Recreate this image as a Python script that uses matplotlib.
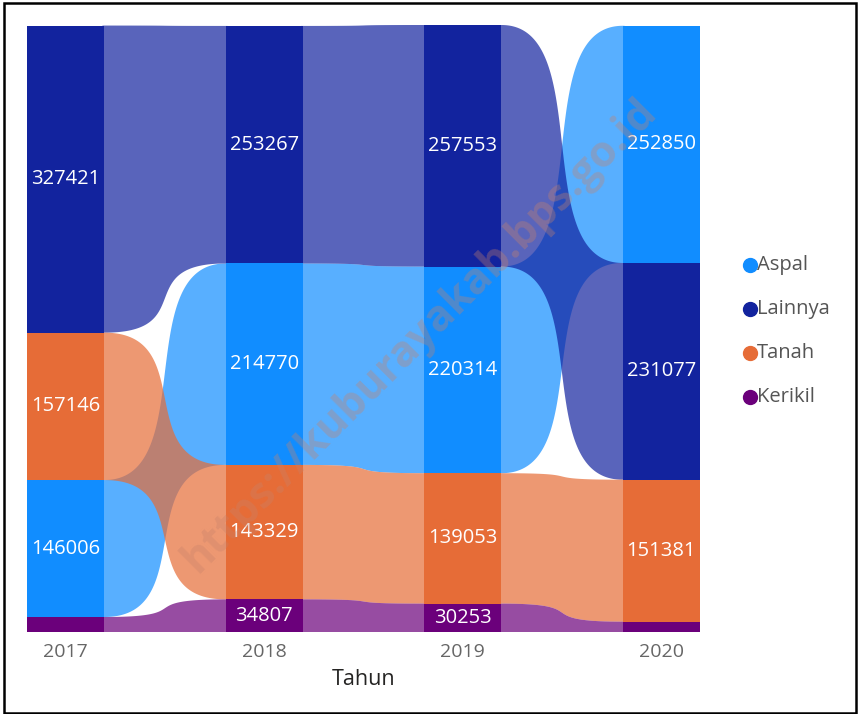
import numpy as np
import matplotlib.pyplot as plt
from matplotlib.lines import Line2D
from matplotlib.patches import Rectangle

plt.rcParams['font.family'] = ['Open Sans', 'DejaVu Sans']

# data (kerikil 2017 / 2020 tidak berlabel, diperkirakan dari tinggi pita)
tahun = ["2017", "2018", "2019", "2020"]
kategori = ["Aspal", "Lainnya", "Tanah", "Kerikil"]
aspal = [146006, 214770, 220314, 252850]
lainnya = [327421, 253267, 257553, 231077]
tanah = [157146, 143329, 139053, 151381]
kerikil = [16000, 34807, 30253, 11000]
warna = ["#118DFF", "#12239E", "#E66C37", "#6B007B"]

nilai = np.array([aspal, lainnya, tanah, kerikil], dtype=float)  # (kategori, tahun)
n_kat, n_th = nilai.shape
w = 0.39  # lebar kolom

# posisi tumpukan: terbesar di atas
bawah = np.zeros_like(nilai)
atas = np.zeros_like(nilai)
for j in range(n_th):
    urut = np.argsort(nilai[:, j])  # kecil -> besar, dari bawah
    y = 0
    for k in urut:
        bawah[k, j] = y
        y += nilai[k, j]
        atas[k, j] = y

fig = plt.figure(figsize=(8.6, 7.14), dpi=100)
ax = fig.add_axes([27/860, 1-632/714, (700-27)/860, (632-25)/714])

# pita antar kolom: kurva bezier
c = 0.78
t = np.linspace(0, 1, 400)
bx = 3*(1-t)**2*t*c + 3*(1-t)*t**2*(1-c) + t**3
by = 3*(1-t)*t**2 + t**3
eps = 0.01  # sedikit masuk ke kolom supaya tidak ada celah putih
for j in range(n_th-1):
    x0, x1 = j + w/2, j + 1 - w/2
    xs = np.concatenate([[x0 - eps], x0 + (x1 - x0)*bx, [x1 + eps]])
    for k in range(n_kat):
        top = atas[k, j] + (atas[k, j+1] - atas[k, j]) * by
        bot = bawah[k, j] + (bawah[k, j+1] - bawah[k, j]) * by
        top = np.concatenate([[top[0]], top, [top[-1]]])
        bot = np.concatenate([[bot[0]], bot, [bot[-1]]])
        ax.fill(np.concatenate([xs, xs[::-1]]), np.concatenate([top, bot[::-1]]),
                color=warna[k], alpha=0.7, linewidth=0)

# kolom
for k in range(n_kat):
    ax.bar(np.arange(n_th), nilai[k], bottom=bawah[k], width=w,
           color=warna[k], linewidth=0, zorder=3)
    for j in range(n_th):
        if nilai[k, j] > 25000:
            ax.text(j, (bawah[k, j] + atas[k, j]) / 2, f"{int(nilai[k, j])}",
                    ha="center", va="center", color="white", fontsize=14.5, zorder=4)

ax.set_xlim(-w/2, n_th - 1 + w/2)
ax.set_ylim(0, atas.max())
ax.set_xticks(range(n_th))
ax.set_xticklabels(tahun, color="#666666", fontsize=14)
ax.tick_params(axis="x", length=0, pad=8)
ax.set_yticks([])
for sp in ax.spines.values():
    sp.set_visible(False)
ax.set_xlabel("Tahun", color="#252423", fontsize=15.5, labelpad=6)

# legenda
for i, (nm, col) in enumerate(zip(kategori, warna)):
    yy = 1 - (265 + 44*i)/714
    fig.add_artist(Line2D([750/860], [yy], marker="o", markersize=10, color=col,
                          linestyle="none", transform=fig.transFigure))
    fig.text(757/860, yy, nm, color="#555555", fontsize=14.5, va="center", ha="left")

# watermark
fig.text(420/860, 1-335/714, "https://kuburayakab.bps.go.id", rotation=45,
         ha="center", va="center", fontsize=31, fontweight="bold",
         color="#c8826a", alpha=0.35, zorder=10)

# bingkai
fig.add_artist(Rectangle((4/860, 1/714), 852/860, 710/714, fill=False,
                         edgecolor="black", linewidth=1.8, transform=fig.transFigure))

fig.savefig("out.png", dpi=100)
